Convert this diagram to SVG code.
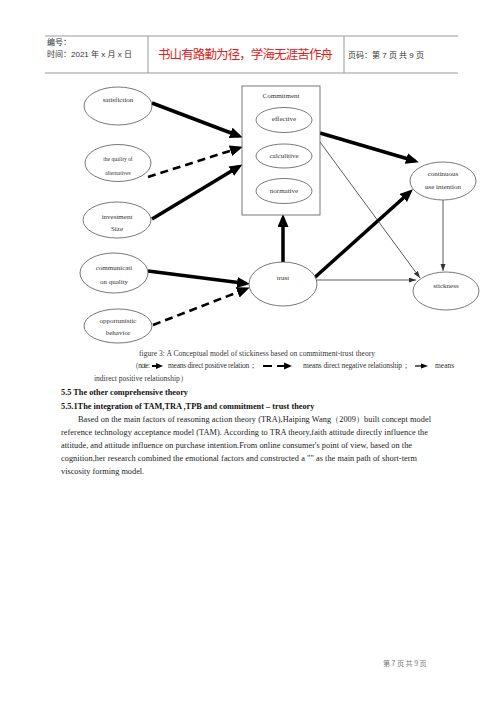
<svg xmlns="http://www.w3.org/2000/svg" width="500" height="707" viewBox="0 0 500 707">
<style>
.hdr{stroke:#999;stroke-width:1;fill:none}
.ht{font-family:"Liberation Sans","Noto Sans CJK SC",sans-serif;font-size:8px;fill:#333}
.red{font-family:"Noto Sans CJK SC",sans-serif;font-size:12.5px;fill:#e02020}
.node{fill:#fff;stroke:#555;stroke-width:0.8}
.t{font-family:"Liberation Serif",serif;font-size:7px;fill:#333;text-anchor:middle}
.ts{font-family:"Liberation Serif",serif;font-size:5.5px;fill:#333;text-anchor:middle}
.thick{stroke:#000;stroke-width:3.5;fill:none}
.dash{stroke:#000;stroke-width:2.6;fill:none;stroke-dasharray:8 5}
.thin{stroke:#333;stroke-width:0.8;fill:none}
.cap{font-family:"Liberation Serif",serif;font-size:7.5px;fill:#333}
.h{font-family:"Liberation Serif",serif;font-size:8.3px;font-weight:bold;fill:#111}
.p{font-family:"Liberation Serif",serif;font-size:8.3px;fill:#222}
.foot{font-family:"Noto Sans CJK SC",sans-serif;font-size:7px;fill:#777}
</style>
<defs>
<marker id="big" markerUnits="userSpaceOnUse" markerWidth="14" markerHeight="12" refX="9" refY="5.5" orient="auto">
<path d="M0,0 L13,5.5 L0,11 z" fill="#000"/>
</marker>
<marker id="small" markerUnits="userSpaceOnUse" markerWidth="8" markerHeight="6" refX="7" refY="2.5" orient="auto">
<path d="M0,0 L7,2.5 L0,5 z" fill="#333"/>
</marker>
</defs>
<rect width="500" height="707" fill="#fff"/>
<g id="header">
<line class="hdr" x1="45" y1="36" x2="458" y2="36"/>
<line class="hdr" x1="45" y1="73" x2="458" y2="73"/>
<line class="hdr" x1="148" y1="36" x2="148" y2="73"/>
<line class="hdr" x1="344" y1="36" x2="344" y2="73"/>
<text class="ht" x="47" y="45">编号：</text>
<text class="ht" x="47" y="57">时间：2021 年 x 月 x 日</text>
<text class="red" x="158" y="59" textLength="175">书山有路勤为径，学海无涯苦作舟</text>
<text class="ht" x="348" y="58">页码：第 7 页 共 9 页</text>
</g>
<g id="connectors">
<line class="thick" x1="152" y1="103" x2="239" y2="136" marker-end="url(#big)"/>
<line class="dash" x1="148" y1="177" x2="239" y2="148" marker-end="url(#big)"/>
<line class="thick" x1="152" y1="219" x2="239" y2="166.5" marker-end="url(#big)"/>
<line class="thick" x1="148" y1="271" x2="246" y2="283.6" marker-end="url(#big)"/>
<line class="dash" x1="153" y1="325" x2="246" y2="289" marker-end="url(#big)"/>
<line class="thick" x1="283" y1="262" x2="283" y2="218" marker-end="url(#big)"/>
<line class="thick" x1="313" y1="279" x2="410" y2="192" marker-end="url(#big)"/>
<line class="thick" x1="320" y1="133" x2="415" y2="161" marker-end="url(#big)"/>
<line class="thin" x1="317" y1="280" x2="416" y2="280" marker-end="url(#small)"/>
<line class="thin" x1="320" y1="142" x2="420" y2="278" marker-end="url(#small)"/>
<line class="thin" x1="443" y1="200" x2="443" y2="271" marker-end="url(#small)"/>
</g>
<g id="satisfiction">
<ellipse class="node" cx="118" cy="106" rx="34" ry="19"/>
<text class="t" x="118" y="102">satisfiction</text>
</g>
<g id="alternatives">
<ellipse class="node" cx="118" cy="163" rx="33" ry="18.5"/>
<text class="ts" x="118" y="161">the quality of</text>
<text class="ts" x="118" y="175">alternatives</text>
</g>
<g id="investment">
<ellipse class="node" cx="117" cy="220" rx="34" ry="18"/>
<text class="t" x="117" y="219">investment</text>
<text class="t" x="117" y="231">Size</text>
</g>
<g id="communication">
<ellipse class="node" cx="114" cy="273" rx="34" ry="20"/>
<text class="t" x="114" y="270">communicati</text>
<text class="t" x="114" y="284">on quality</text>
</g>
<g id="opportunistic">
<ellipse class="node" cx="118" cy="326" rx="34" ry="17"/>
<text class="t" x="118" y="323">opportunistic</text>
<text class="t" x="118" y="335">behavior</text>
</g>
<g id="commitment">
<rect class="node" x="242" y="86" width="78" height="129"/>
<text class="t" x="281" y="98">Commitment</text>
<ellipse class="node" cx="284" cy="120" rx="28" ry="12.5"/>
<text class="t" x="284" y="121">effective</text>
<ellipse class="node" cx="284" cy="156" rx="28" ry="12"/>
<text class="t" x="284" y="158">calculitive</text>
<ellipse class="node" cx="284" cy="191" rx="28" ry="12.5"/>
<text class="t" x="284" y="193">normative</text>
</g>
<g id="trust">
<ellipse class="node" cx="283" cy="284" rx="34" ry="22"/>
<text class="t" x="283" y="280">trust</text>
</g>
<g id="continuous">
<ellipse class="node" cx="443" cy="181" rx="33" ry="19"/>
<text class="t" x="443" y="176">continuous</text>
<text class="t" x="443" y="189">use intention</text>
</g>
<g id="stickness">
<ellipse class="node" cx="446" cy="291" rx="33" ry="19"/>
<text class="t" x="446" y="288">stickness</text>
</g>
<g id="caption">
<text class="cap" x="139" y="356" textLength="236">figure 3: A Conceptual model of stickiness based on commitment-trust theory</text>
<text class="cap" x="131" y="368" textLength="19">（note:</text>
<line x1="152" y1="366" x2="157" y2="366" stroke="#000" stroke-width="2"/>
<path d="M156,363 L163,366 L156,369 z" fill="#000"/>
<text class="cap" x="168" y="368" textLength="89">means direct positive relation；</text>
<line x1="263" y1="366" x2="272" y2="366" stroke="#000" stroke-width="2"/>
<line x1="277" y1="366" x2="285" y2="366" stroke="#000" stroke-width="2"/>
<path d="M284,362.5 L292,366 L284,369.5 z" fill="#000"/>
<text class="cap" x="303" y="368" textLength="107">means direct negative relationship；</text>
<line x1="415" y1="366" x2="422" y2="366" stroke="#000" stroke-width="1.2"/>
<path d="M421,363.5 L428,366 L421,368.5 z" fill="#000"/>
<text class="cap" x="435" y="368">means</text>
<text class="cap" x="94" y="381">indirect positive relationship）</text>
</g>
<g id="body">
<text class="h" x="61" y="395">5.5 The other comprehensive theory</text>
<text class="h" x="61" y="409">5.5.1The integration of TAM,TRA ,TPB and commitment – trust theory</text>
<text class="p" x="78" y="422" textLength="353">Based on the main factors of reasoning action theory (TRA),Haiping Wang（2009）built concept model</text>
<text class="p" x="61" y="435" textLength="367">reference technology acceptance model (TAM). According to TRA theory,faith attitude directly influence the</text>
<text class="p" x="61" y="448" textLength="351">attitude, and attitude influence on purchase intention.From online consumer's point of view, based on the</text>
<text class="p" x="61" y="461" textLength="356">cognition,her research combined the emotional factors and constructed a "" as the main path of short-term</text>
<text class="p" x="61" y="474">viscosity forming model.</text>
</g>
<g id="footer">
<text class="foot" x="383" y="666">第 7 页 共 9 页</text>
</g>
</svg>
